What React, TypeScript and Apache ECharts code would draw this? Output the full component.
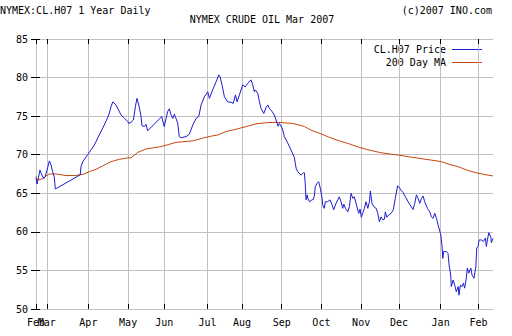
import React, { useEffect, useRef } from "react";
import * as echarts from "echarts";

// x = trading-session position since the first session shown (late Feb 2006)
const monthTickDays: number[] = [0, 6, 29, 51, 71, 95, 114, 136, 158, 180, 201, 224, 245];
const monthLabels: string[] = ["Feb", "Mar", "Apr", "May", "Jun", "Jul", "Aug", "Sep", "Oct", "Nov", "Dec", "Jan", "Feb"];

const yMin = 50;
const yMax = 85;
const yStep = 5;

// CL.H07 daily price [session, price]
const price: [number, number][] = [
  [0, 67.0], [0.6, 66.2], [2.2, 68.0], [3.7, 67.1], [4.6, 67.0], [5.1, 67.2], [6.1, 68.0], [7.4, 69.2], [8.3, 68.7], [9.2, 67.8],
  [10.1, 67.15], [10.7, 65.55], [24.5, 67.4], [24.9, 68.45], [25.9, 69.1], [28.6, 70.0], [32.3, 71.25], [35, 72.55], [37.8, 73.85], [40.3, 75.15],
  [41.5, 76.2], [42.5, 76.85], [44.3, 76.45], [47.1, 75.15], [48.9, 74.75], [50.8, 74.3],
  [51.3, 74.05], [52.6, 74.2], [53.9, 74.5], [55, 76.2], [55.9, 77.3], [56.9, 76.45], [58, 75.15], [58.7, 73.75], [60, 73.65], [60.9, 73.95], [61.8, 73.1],
  [69.6, 74.95], [71, 73.65], [72, 74.7], [72.9, 75.6], [73.8, 75.95], [74.8, 75.15], [75.7, 74.7], [76.6, 75.25], [77.5, 74.7], [78.5, 74.05], [79.3, 72.35], [80.3, 72.2],
  [83.1, 72.35], [84.9, 72.65], [86.8, 73.85], [88.6, 74.7], [90.1, 74.95], [91.4, 76.45], [93.2, 77.5], [95.1, 78.15], [96, 77.3], [97.8, 78.4], [99.7, 79.45], [101.2, 80.35],
  [101.9, 80.1], [103, 79.05], [104.3, 77.5], [106.1, 76.85], [108, 76.8], [109.2, 76.65], [110.4, 77.75], [111.3, 76.85], [112.6, 77.75], [114.4, 79.05],
  [115.9, 78.8], [117.2, 79.25], [119, 79.7], [120, 79.05], [120.9, 78.15], [121.4, 78.4], [122.8, 77.95], [123.7, 76.85], [124.6, 76.0], [126.1, 75.35],
  [127.4, 76.15], [128.3, 76.45], [129.2, 76.0], [130.7, 75.6], [131.9, 75.15], [132.9, 74.5], [134, 73.7], [134.7, 74.05], [135.8, 73.65], [136.6, 73.2],
  [137.5, 72.35], [139.4, 71.5], [141.2, 70.6], [143, 69.65], [144, 68.25], [144.9, 67.8], [146.7, 67.35], [148, 67.65], [148.6, 67.65], [149.1, 66.05], [149.5, 64.15], [150.1, 64.8],
  [150.5, 64.35], [151.4, 63.9], [152.8, 64.15], [153.5, 64.2], [154.1, 64.65], [154.6, 65.85], [155.6, 66.3], [156.5, 66.5], [157.4, 65.65], [158.4, 64.35],
  [158.7, 63.5], [159.6, 63.05], [160.2, 63.9], [161.5, 63.9], [162.8, 64.15], [163.9, 63.5], [164.8, 62.85], [166.1, 63.7], [167.9, 64.55], [168.9, 63.9],
  [169.8, 63.05], [170.4, 63.6], [171.3, 63.05], [172.6, 62.6], [173.5, 63.25], [174.4, 65.0], [175.4, 64.35], [176.2, 64.55], [177.2, 63.7], [178.1, 62.85],
  [178.7, 62.4], [179.4, 62.95], [180.1, 61.9], [180.9, 62.4], [181.8, 63.05], [182.7, 63.9], [183.7, 63.05], [184.6, 63.9], [185.1, 65.3], [186, 63.7],
  [187.3, 63.2], [188.3, 63.05], [189.2, 62.4], [190.1, 61.3], [191, 61.95], [192, 61.55], [192.9, 61.65], [193.4, 62.6], [194.2, 61.9], [195.3, 62.2],
  [196.6, 62.4], [197.8, 62.85], [198.9, 64.35], [200.2, 65.95], [201.2, 65.75],
  [201.9, 65.45], [203.2, 65.1], [204.5, 64.55], [206, 63.9], [207.8, 63.25], [208.7, 62.9], [209.7, 63.7], [210.6, 64.8], [211.5, 64.35], [212.5, 63.7],
  [213.4, 64.35], [214.3, 64.65], [215.2, 63.9], [216.7, 63.05], [218, 62.6], [218.9, 61.95], [219.8, 61.75], [220.8, 62.4], [221.7, 61.75], [222.6, 60.9],
  [224.1, 59.6], [224.8, 58.1], [225.2, 56.55], [225.7, 57.45], [227.2, 57.45], [228.1, 57.2], [228.7, 55.7], [229.6, 54.4], [229.9, 52.9], [230.9, 53.75],
  [231.8, 53.1], [232.7, 52.25], [233.7, 52.9], [234.2, 51.8], [234.9, 53.1], [235.8, 52.9], [236.6, 53.35], [237.3, 52.7], [238.2, 54.0], [238.8, 55.3],
  [239.6, 54.65], [240.7, 55.3], [241.4, 54.4], [242.5, 54.0], [243.5, 55.5], [244, 57.9], [244.7, 58.1], [245.3, 58.95], [246.6, 58.95], [247.7, 58.75],
  [248.8, 59.2], [249.3, 58.1], [249.9, 58.95], [250.7, 59.9], [251.8, 59.3], [252.1, 58.6], [253, 59.15],
];

// 200 day moving average [session, value]
const ma200: [number, number][] = [
  [0, 67.2], [0.7, 66.7], [4.6, 66.95], [5.5, 67.25], [7.4, 67.5], [11.1, 67.5], [16.6, 67.3], [22.1, 67.3], [26.7, 67.5], [29.5, 67.8],
  [33.2, 68.1], [36.9, 68.55], [41.5, 69.1], [46.1, 69.4], [50.8, 69.6], [52.6, 69.6], [56.3, 70.3], [60.9, 70.75], [69.2, 71.05], [73.8, 71.35],
  [77.5, 71.6], [86.8, 71.8], [92.3, 72.15], [97.8, 72.45], [100.6, 72.55], [105.2, 73.0], [110.7, 73.3], [116.3, 73.65], [121.8, 74.0], [127.4, 74.15],
  [132.9, 74.2], [136.6, 74.15], [142.1, 74.05], [145.8, 73.85], [148.6, 73.65], [150.5, 73.4], [153.2, 73.1], [157.8, 72.7], [162.4, 72.25], [167.9, 71.8],
  [173.5, 71.4], [179, 70.95], [184.5, 70.6], [190.1, 70.3], [195.6, 70.1], [201.2, 69.95], [206, 69.75], [211.5, 69.55], [218.9, 69.3], [224.4, 69.1],
  [228.1, 68.8], [233.7, 68.45], [239.2, 67.95], [244.7, 67.6], [250.3, 67.35], [253, 67.25],
];

const priceName = "CL.H07 Price";
const maName = "200 Day MA";
const leftTitle = "NYMEX:CL.H07 1 Year Daily";
const rightTitle = "(c)2007 INO.com";
const centerTitle = "NYMEX CRUDE OIL Mar 2007";

const FONT = '"DejaVu Sans Mono", "Liberation Mono", monospace';
const BLUE = "#1c1cd0";
const ORANGE = "#c4480e";
const GRID = "#c0c0c0";

export default function App() {
  const ref = useRef<HTMLDivElement>(null);
  useEffect(() => {
    if (!ref.current) return;
    const chart = echarts.init(ref.current, undefined, { renderer: "svg" });
    const xMax = 253;
    const textStyle = (text: string, x: number, y: number, align: string) => ({
      type: "text",
      x,
      y,
      silent: true,
      style: { text, fontFamily: FONT, fontSize: 10, fill: "#000", align, verticalAlign: "middle" },
    });
    const labelOf = (v: number) => monthLabels[monthTickDays.indexOf(v)] ?? "";
    const labelBase = { margin: 8, fontFamily: FONT, fontSize: 10, color: "#000", formatter: labelOf };
    chart.setOption({
      animation: false,
      backgroundColor: "#fff",
      textStyle: { fontFamily: FONT },
      grid: { left: 36, right: 19, top: 39, bottom: 27, containLabel: false, outerBoundsMode: "none" },
      xAxis: [
        {
          type: "value",
          position: "bottom",
          min: 0,
          max: xMax,
          axisLine: { show: true, lineStyle: { color: GRID } },
          axisTick: { show: true, inside: true, length: 5, customValues: monthTickDays, lineStyle: { color: "#000" } },
          axisLabel: { show: true, ...labelBase, customValues: monthTickDays.slice(1), showMinLabel: true, showMaxLabel: true },
          splitLine: { show: true, lineStyle: { color: GRID, width: 1 } },
        },
        {
          type: "value",
          position: "top",
          min: 0,
          max: xMax,
          axisLine: { show: false },
          axisTick: { show: true, inside: true, length: 5, customValues: monthTickDays, lineStyle: { color: "#000" } },
          axisLabel: { show: false },
          splitLine: { show: false },
        },
        {
          type: "value",
          position: "bottom",
          min: 0,
          max: xMax,
          axisLine: { show: false },
          axisTick: { show: false },
          axisLabel: { show: true, ...labelBase, customValues: monthTickDays.slice(0, 1), showMinLabel: true },
          splitLine: { show: false },
        },
      ],
      yAxis: [
        {
          type: "value",
          position: "left",
          min: yMin,
          max: yMax,
          interval: yStep,
          axisLine: { show: true, lineStyle: { color: GRID } },
          axisTick: { show: true, inside: true, length: 4, lineStyle: { color: "#000" } },
          axisLabel: { show: true, margin: 8, fontFamily: FONT, fontSize: 10, color: "#000" },
          splitLine: { show: true, lineStyle: { color: GRID, width: 1 } },
        },
        {
          type: "value",
          position: "right",
          min: yMin,
          max: yMax,
          interval: yStep,
          axisLine: { show: false },
          axisTick: { show: true, inside: true, length: 5, lineStyle: { color: "#000" } },
          axisLabel: { show: false },
          splitLine: { show: false },
        },
      ],
      series: [
        {
          name: maName,
          type: "line",
          xAxisIndex: 0,
          yAxisIndex: 0,
          data: ma200,
          showSymbol: false,
          lineStyle: { color: ORANGE, width: 1 },
          itemStyle: { color: ORANGE },
          z: 2,
        },
        {
          name: priceName,
          type: "line",
          xAxisIndex: 0,
          yAxisIndex: 0,
          data: price,
          showSymbol: false,
          lineStyle: { color: BLUE, width: 1 },
          itemStyle: { color: BLUE },
          z: 3,
        },
      ],
      graphic: [
        textStyle(leftTitle, 0, 10, "left"),
        textStyle(rightTitle, 492, 10, "right"),
        textStyle(centerTitle, 262, 19, "center"),
        textStyle(priceName, 446, 49, "right"),
        textStyle(maName, 446, 62, "right"),
        { type: "line", silent: true, shape: { x1: 452, y1: 49.5, x2: 482, y2: 49.5 }, style: { stroke: BLUE, lineWidth: 1 } },
        { type: "line", silent: true, shape: { x1: 452, y1: 62.5, x2: 482, y2: 62.5 }, style: { stroke: ORANGE, lineWidth: 1 } },
      ],
    });
    return () => chart.dispose();
  }, []);
  return <div ref={ref} style={{ position: "absolute", left: 0, top: 0, width: 512, height: 336 }} />;
}
